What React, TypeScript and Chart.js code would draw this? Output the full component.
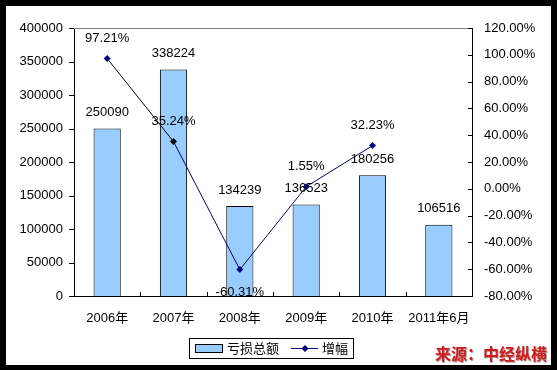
import React, { useEffect, useRef } from "react";
import { Chart, registerables } from "chart.js";

Chart.register(...registerables);

const categories = ["2006年", "2007年", "2008年", "2009年", "2010年", "2011年6月"];
const lossTotal = [250090, 338224, 134239, 136523, 180256, 106516];
const growthPct: (number | null)[] = [97.21, 35.24, -60.31, 1.55, 32.23, null];
const barLabel = "亏损总额";
const lineLabel = "增幅";
const sourceText = "来源：中经纵横";

const FONT = '"Liberation Sans", Arial, "Noto Sans CJK SC", sans-serif';
const BAR_FILL = "#99CCFF";
const LINE_COLOR = "#000080";

const overlayPlugin = {
  id: "overlay",
  beforeDatasetsDraw(chart: any) {
    const { ctx, chartArea } = chart;
    ctx.save();
    ctx.strokeStyle = "#808080";
    ctx.lineWidth = 1;
    ctx.beginPath();
    ctx.moveTo(chartArea.left, Math.round(chartArea.top) + 0.5);
    ctx.lineTo(chartArea.right, Math.round(chartArea.top) + 0.5);
    ctx.stroke();
    ctx.restore();
  },
  afterDraw(chart: any) {
    const { ctx, chartArea, scales } = chart;
    const yL = scales.y;
    const yR = scales.y1;
    const x = scales.x;
    ctx.save();
    ctx.strokeStyle = "#000";
    ctx.lineWidth = 1;
    ctx.beginPath();
    yL.ticks.forEach((t: any) => {
      const py = Math.round(yL.getPixelForValue(t.value)) + 0.5;
      ctx.moveTo(chartArea.left - 5, py);
      ctx.lineTo(chartArea.left, py);
    });
    yR.ticks.forEach((t: any) => {
      const py = Math.round(yR.getPixelForValue(t.value)) + 0.5;
      ctx.moveTo(chartArea.right - 4, py);
      ctx.lineTo(chartArea.right, py);
    });
    for (let i = 1; i < categories.length; i++) {
      const px = Math.round((x.getPixelForValue(i - 1) + x.getPixelForValue(i)) / 2) + 0.5;
      ctx.moveTo(px, chartArea.bottom - 4);
      ctx.lineTo(px, chartArea.bottom);
    }
    ctx.stroke();

    // data labels
    ctx.fillStyle = "#000";
    ctx.font = "13px " + FONT;
    ctx.textAlign = "center";
    ctx.textBaseline = "middle";
    const barMeta = chart.getDatasetMeta(0);
    barMeta.data.forEach((el: any, i: number) => {
      ctx.fillText(String(lossTotal[i]), el.x, el.y - 16);
    });
    const lineMeta = chart.getDatasetMeta(1);
    lineMeta.data.forEach((el: any, i: number) => {
      const v = growthPct[i];
      if (v === null || v === undefined) return;
      const dy = v < 0 ? 23 : -20;
      ctx.fillText(v.toFixed(2) + "%", el.x, el.y + dy);
    });

    // legend
    ctx.strokeStyle = "#000";
    ctx.strokeRect(189.5, 338.5, 164, 20);
    ctx.fillStyle = BAR_FILL;
    ctx.fillRect(195.5, 344.5, 27, 8);
    ctx.strokeRect(195.5, 344.5, 27, 8);
    ctx.fillStyle = "#000";
    ctx.textAlign = "left";
    ctx.fillText(barLabel, 227, 349);
    ctx.strokeStyle = LINE_COLOR;
    ctx.beginPath();
    ctx.moveTo(291, 348.5);
    ctx.lineTo(318, 348.5);
    ctx.stroke();
    ctx.fillStyle = LINE_COLOR;
    ctx.beginPath();
    ctx.moveTo(305, 345);
    ctx.lineTo(308.5, 348.5);
    ctx.lineTo(305, 352);
    ctx.lineTo(301.5, 348.5);
    ctx.closePath();
    ctx.fill();
    ctx.fillStyle = "#000";
    ctx.fillText(lineLabel, 322, 349);

    // source
    ctx.font = "bold 16px " + FONT;
    ctx.fillStyle = "#d41a1a";
    ctx.shadowColor = "rgba(0,0,0,0.35)";
    ctx.shadowOffsetX = 1;
    ctx.shadowOffsetY = 1;
    ctx.fillText(sourceText, 435, 356);
    ctx.restore();
  },
};

export default function App() {
  const ref = useRef<HTMLCanvasElement | null>(null);
  useEffect(() => {
    document.body.style.margin = "0";
    if (!ref.current) return;
    const chart = new Chart(ref.current, {
      type: "bar",
      data: {
        labels: categories,
        datasets: [
          {
            type: "bar",
            label: barLabel,
            data: lossTotal,
            backgroundColor: BAR_FILL,
            borderColor: "#000",
            borderWidth: 1,
            categoryPercentage: 1,
            barPercentage: 0.41,
            yAxisID: "y",
            order: 2,
          },
          {
            type: "line",
            label: lineLabel,
            data: growthPct,
            borderColor: LINE_COLOR,
            borderWidth: 1,
            pointStyle: "rectRot",
            pointRadius: 3.5,
            pointBackgroundColor: [LINE_COLOR, "#000", LINE_COLOR, LINE_COLOR, LINE_COLOR, LINE_COLOR],
            pointBorderColor: [LINE_COLOR, "#000", LINE_COLOR, LINE_COLOR, LINE_COLOR, LINE_COLOR],
            pointBorderWidth: 0,
            segment: {
              borderColor: (c: any) => (c.p0DataIndex === 0 ? "#000" : LINE_COLOR),
            },
            tension: 0,
            yAxisID: "y1",
            order: 1,
          } as any,
        ],
      },
      options: {
        responsive: false,
        animation: false,
        layout: { padding: { top: 28, left: 0, right: 0, bottom: 0 } },
        plugins: { legend: { display: false }, tooltip: { enabled: false } },
        scales: {
          x: {
            offset: true,
            grid: { display: false, drawTicks: false },
            border: { display: true, color: "#000", width: 1 },
            ticks: { color: "#000", font: { size: 13, family: FONT }, padding: 15, maxRotation: 0, autoSkip: false },
            afterFit: (s: any) => { s.height = 74; },
          },
          y: {
            position: "left",
            min: 0,
            max: 400000,
            grid: { display: false, drawTicks: false },
            border: { display: true, color: "#000", width: 1 },
            ticks: {
              stepSize: 50000,
              color: "#000",
              font: { size: 13, family: FONT },
              padding: 11,
              callback: (v: any) => String(v),
            },
            afterFit: (s: any) => { s.width = 74; },
          },
          y1: {
            position: "right",
            min: -80,
            max: 120,
            grid: { display: false, drawTicks: false },
            border: { display: true, color: "#000", width: 1 },
            ticks: {
              stepSize: 20,
              color: "#000",
              font: { size: 13, family: FONT },
              padding: 12,
              callback: (v: any) => Number(v).toFixed(2) + "%",
            },
            afterFit: (s: any) => { s.width = 85; },
          },
        },
      },
      plugins: [overlayPlugin],
    });
    return () => chart.destroy();
  }, []);
  return (
    <div style={{ position: "relative", width: 557, height: 370, background: "#000" }}>
      <div style={{ position: "absolute", left: 6, top: 6, width: 545, height: 359, background: "#fff" }} />
      <canvas ref={ref} width={557} height={370} style={{ position: "absolute", left: 0, top: 0 }} />
    </div>
  );
}
